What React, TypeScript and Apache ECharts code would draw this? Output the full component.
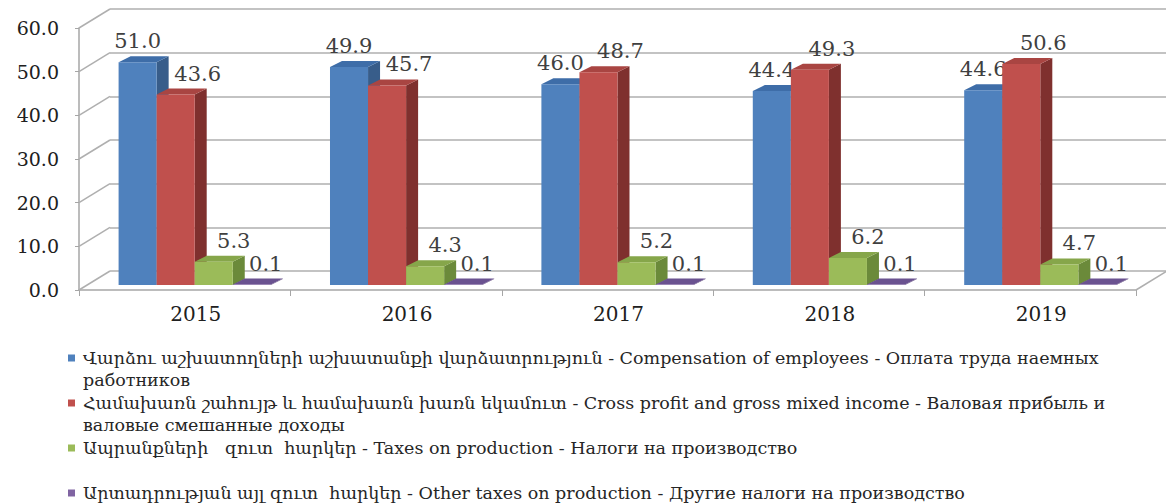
import React, { useEffect, useRef } from "react";
import * as echarts from "echarts";

const categories = ["2015", "2016", "2017", "2018", "2019"];
const compensation = [51.0, 49.9, 46.0, 44.4, 44.6];
const grossProfit = [43.6, 45.7, 48.7, 49.3, 50.6];
const taxesOnProduction = [5.3, 4.3, 5.2, 6.2, 4.7];
const otherTaxes = [0.1, 0.1, 0.1, 0.1, 0.1];
const yTicks = [0, 10, 20, 30, 40, 50, 60];

const seriesNames = [
  "Վարձու աշխատողների աշխատանքի վարձատրություն - Compensation of employees - Оплата труда наемных\nработников",
  "Համախառն շահույթ և համախառն խառն եկամուտ - Cross profit and gross mixed income - Валовая прибыль и\nваловые смешанные доходы",
  "Ապրանքների   զուտ  հարկեր - Taxes on production - Налоги на производство\n ",
  "Արտադրության այլ զուտ  հարկեր - Other taxes on production - Другие налоги на производство",
];
const seriesData = [compensation, grossProfit, taxesOnProduction, otherTaxes];

const front = ["#4F81BD", "#C0504D", "#9BBB59", "#8064A2"];
const topC = ["#3E6DA8", "#A94542", "#86A64A", "#6A5290"];
const sideC = ["#385D8A", "#7F302E", "#6B8A3A", "#5A4577"];
const labelDx = [0, 22, 20, 14];

const FONT = "DejaVu Serif";
const DEPTH_X = 12;
const DEPTH_Y = 6;
const SHIFT_X = 10;
const SHIFT_Y = -5;
const WALL_DX = 31;
const WALL_DY = 19;

function makeBarSeries(idx: number) {
  return {
    type: "custom",
    name: seriesNames[idx],
    xAxisIndex: 0,
    yAxisIndex: 0,
    z: 10 + idx,
    data: seriesData[idx].map((v, i) => [i, v]),
    renderItem: (params: any, api: any) => {
      const cat = api.value(0);
      const v = api.value(1);
      const base = api.coord([cat, 0]);
      const top = api.coord([cat, v]);
      const band = api.size([1, 0])[0];
      const bw = band * 0.18;
      const center = base[0] + SHIFT_X;
      const x = center - 2 * bw + idx * bw;
      const y0 = base[1] + SHIFT_Y;
      const y1 = top[1] + SHIFT_Y;
      return {
        type: "group",
        children: [
          {
            type: "polygon",
            shape: {
              points: [
                [x + bw, y1],
                [x + bw + DEPTH_X, y1 - DEPTH_Y],
                [x + bw + DEPTH_X, y0 - DEPTH_Y],
                [x + bw, y0],
              ],
            },
            style: { fill: sideC[idx] },
          },
          {
            type: "polygon",
            shape: {
              points: [
                [x, y1],
                [x + DEPTH_X, y1 - DEPTH_Y],
                [x + bw + DEPTH_X, y1 - DEPTH_Y],
                [x + bw, y1],
              ],
            },
            style: { fill: topC[idx] },
          },
          {
            type: "rect",
            shape: { x: x, y: y1, width: bw, height: Math.max(y0 - y1, 0.5) },
            style: { fill: front[idx] },
          },
          {
            type: "text",
            x: x + bw / 2 + labelDx[idx],
            y: y1 - 21,
            style: {
              text: v.toFixed(1),
              fill: "#404040",
              font: `21px "${FONT}"`,
              align: "center",
              verticalAlign: "middle",
            },
          },
        ],
      };
    },
  };
}

export default function App() {
  const ref = useRef<HTMLDivElement>(null);
  useEffect(() => {
    if (!ref.current) return;
    const chart = echarts.init(ref.current, null, { renderer: "svg" });
    const rich: any = { sp: { width: 8, height: 1 }, ind: { width: 15, height: 1 } };
    front.forEach((c, i) => {
      rich["sq" + i] = { width: 7, height: 7, backgroundColor: c };
      rich["t" + i] = { fontFamily: FONT, fontSize: 17.5, color: "#262626", lineHeight: 22 };
    });
    const option: any = {
      animation: false,
      backgroundColor: "#ffffff",
      grid: [
        { left: 79, top: 28, width: 1057, height: 262, containLabel: false },
        { left: 110, top: 9, right: 0, height: 262, containLabel: false },
      ],
      xAxis: [
        {
          type: "category",
          gridIndex: 0,
          data: categories,
          axisLine: { show: true, lineStyle: { color: "#A6A6A6", width: 1.5 } },
          axisTick: { show: true, length: 6, lineStyle: { color: "#A6A6A6" } },
          axisLabel: {
            fontFamily: FONT,
            fontSize: 20,
            color: "#202020",
            margin: 14,
            padding: [0, 0, 0, 22],
          },
          splitLine: { show: false },
        },
        {
          type: "category",
          gridIndex: 1,
          data: categories,
          show: false,
        },
      ],
      yAxis: [
        {
          type: "value",
          gridIndex: 0,
          min: 0,
          max: 60,
          interval: 10,
          axisLine: { show: true, lineStyle: { color: "#A6A6A6", width: 1.5 } },
          axisTick: { show: true, length: 4, lineStyle: { color: "#A6A6A6" } },
          axisLabel: {
            fontFamily: FONT,
            fontSize: 19,
            color: "#202020",
            margin: 20,
            formatter: (v: number) => v.toFixed(1),
          },
          splitLine: { show: false },
        },
        {
          type: "value",
          gridIndex: 1,
          min: 0,
          max: 60,
          interval: 10,
          axisLine: { show: false },
          axisTick: { show: false },
          axisLabel: { show: false },
          splitLine: { show: true, lineStyle: { color: "#AFAFAF", width: 1.5 } },
        },
      ],
      legend: {
        orient: "vertical",
        left: 63,
        top: 347,
        height: 220,
        padding: 0,
        itemGap: 1,
        itemWidth: 0,
        itemHeight: 0,
        icon: "rect",
        selectedMode: false,
        data: seriesNames,
        formatter: (name: string) => {
          const i = seriesNames.indexOf(name);
          const lines = name.split("\n");
          return lines
            .map((l, j) => (j === 0 ? `{sq${i}|}{sp|}{t${i}|${l}}` : `{ind|}{t${i}|${l}}`))
            .join("\n");
        },
        textStyle: { rich, fontFamily: FONT, fontSize: 17.5, lineHeight: 22 },
      },
      series: [
        {
          type: "custom",
          name: "walls",
          xAxisIndex: 0,
          yAxisIndex: 0,
          z: 1,
          silent: true,
          data: yTicks.map((t) => [0, t]),
          renderItem: (params: any, api: any) => {
            const cs = params.coordSys;
            const y = api.coord([0, api.value(1)])[1];
            const x0 = cs.x;
            const children: any[] = [
              {
                type: "line",
                shape: { x1: x0, y1: y, x2: x0 + WALL_DX, y2: y - WALL_DY },
                style: { stroke: "#AFAFAF", lineWidth: 1.5 },
              },
            ];
            if (api.value(1) === 0) {
              children.push({
                type: "line",
                shape: { x1: x0 + cs.width, y1: y, x2: x0 + cs.width + WALL_DX, y2: y - WALL_DY },
                style: { stroke: "#AFAFAF", lineWidth: 1.5 },
              });
            }
            return { type: "group", children };
          },
        },
        makeBarSeries(0),
        makeBarSeries(1),
        makeBarSeries(2),
        makeBarSeries(3),
      ],
    };
    chart.setOption(option);
    return () => chart.dispose();
  }, []);
  return (
    <div
      ref={ref}
      style={{ position: "fixed", left: 0, top: 0, width: 1166, height: 504 }}
    />
  );
}
